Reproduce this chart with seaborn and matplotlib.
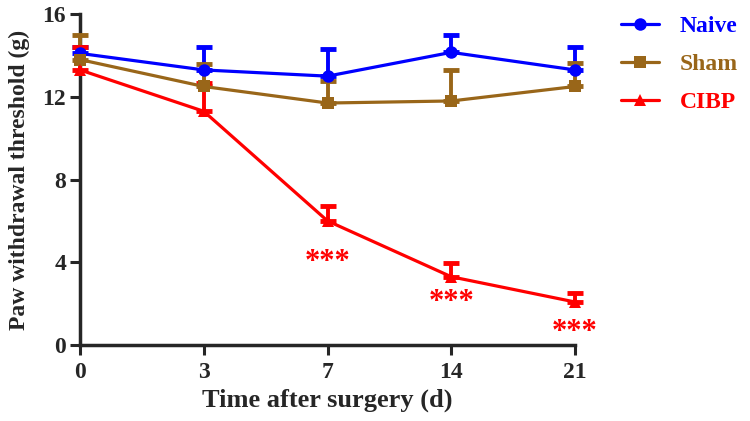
import matplotlib
matplotlib.use("Agg")
import matplotlib.pyplot as plt
import seaborn as sns
import numpy as np
import pandas as pd

days = ["0", "3", "7", "14", "21"]
naive_mean = [14.1, 13.3, 13.0, 14.15, 13.3]
naive_err = [0.3, 1.1, 1.3, 0.85, 1.1]
sham_mean = [13.8, 12.5, 11.7, 11.8, 12.5]
sham_err = [1.2, 1.1, 1.05, 1.5, 1.15]
cibp_mean = [13.3, 11.3, 6.0, 3.3, 2.08]
cibp_err = [1.1, 1.35, 0.7, 0.65, 0.45]
star_pos = [2, 3, 4]
star_y = [4.0, 2.05, 0.6]

sns.set_style("ticks")
plt.rcParams["font.family"] = ["Liberation Serif", "DejaVu Serif"]
plt.rcParams["font.weight"] = "bold"

fig = plt.figure(figsize=(7.5, 4.21), dpi=100)
ax = fig.add_axes([0.1067, 0.1805, 0.66, 0.786])

series = [
    ("Naive", naive_mean, naive_err, "#0000FF", "o"),
    ("Sham", sham_mean, sham_err, "#996619", "s"),
    ("CIBP", cibp_mean, cibp_err, "#FF0000", "^"),
]
x = np.arange(len(days))
rows = []
for name, m, e, c, mk in series:
    for i, d in enumerate(days):
        rows.append({"x": i, "y": m[i], "group": name})
df = pd.DataFrame(rows)

for name, m, e, c, mk in series:
    eb = ax.errorbar(x, m, yerr=[np.zeros(len(e)), e], fmt="none", ecolor=c,
                     elinewidth=2.8, capsize=6, capthick=3.5, zorder=3)
    for art in eb.lines[1] + eb.lines[2]:
        art.set_clip_on(False)
    sns.lineplot(data=df[df.group == name], x="x", y="y", color=c, marker=mk,
                 markersize=9, markeredgewidth=0, linewidth=2.3, ax=ax,
                 label=name, zorder=4, clip_on=False)
for coll in ax.collections:
    coll.set_clip_on(False)

for xi, yi in zip(star_pos, star_y):
    ax.text(xi, yi, "***", color="#FF0000", ha="center", va="center",
            fontsize=22, fontweight="bold")

ax.set_xlim(0, 4)
ax.set_ylim(0, 16)
ax.set_xticks(x)
ax.set_xticklabels(days)
ax.set_yticks([0, 4, 8, 12, 16])
ax.set_xlabel("Time after surgery (d)", fontsize=19, fontweight="bold", labelpad=4)
ax.set_ylabel("Paw withdrawal threshold (g)", fontsize=17, fontweight="bold", labelpad=9)
sns.despine(ax=ax)
for s in ["left", "bottom"]:
    ax.spines[s].set_linewidth(2.5)
ax.tick_params(axis="both", width=2.2, length=7, labelsize=17, direction="out", pad=3)
ax.tick_params(axis="x", pad=5)
for lab in ax.get_xticklabels() + ax.get_yticklabels():
    lab.set_fontweight("bold")

leg = ax.legend(loc="upper left", bbox_to_anchor=(1.05, 1.06), frameon=False,
                prop={"size": 17, "weight": "bold"}, labelspacing=0.7,
                handlelength=1.6, handletextpad=0.9)
for t, (_, _, _, c, _) in zip(leg.get_texts(), series):
    t.set_color(c)

fig.savefig("out.png", dpi=100)
